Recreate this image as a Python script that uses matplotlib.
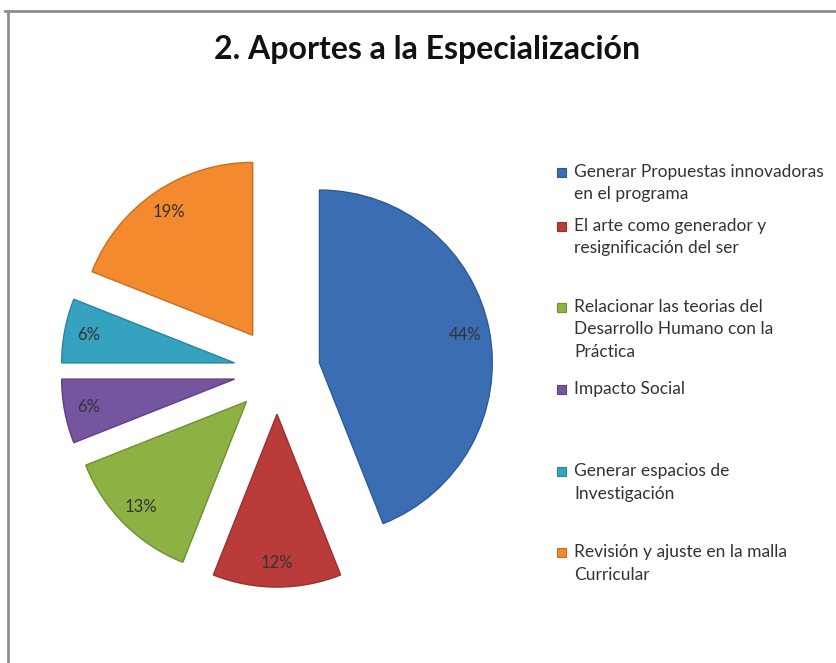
import matplotlib
matplotlib.use('Agg')
import matplotlib.pyplot as plt
from matplotlib.lines import Line2D
from matplotlib.patches import Rectangle

# data
labels = ['Generar Propuestas innovadoras\nen el programa',
          'El arte como generador y\nresignificación del ser',
          'Relacionar las teorias del\nDesarrollo Humano con la\nPráctica',
          'Impacto Social',
          'Generar espacios de\nInvestigación',
          'Revisión y ajuste en la malla\nCurricular']
values = [44, 12, 13, 6, 6, 19]
colors = ['#3B6DB3', '#BA3C3A', '#8DB243', '#7554A0', '#35A2BF', '#F38A2E']
edges = ['#2E5A94', '#9A2F2D', '#6F8F33', '#5E4282', '#2A849C', '#C96E22']
title = '2. Aportes a la Especialización'

plt.rcParams['font.family'] = ['Lato', 'DejaVu Sans']

fig = plt.figure(figsize=(8.36, 6.63), dpi=100)
W, H = 836, 663

# frame lines (top and left only, the rest is cropped in the source)
fig.add_artist(Line2D([5 / W, 1], [1 - 11 / H, 1 - 11 / H], color='#8c8c8c', lw=2))
fig.add_artist(Line2D([8 / W, 8 / W], [0, 1 - 11 / H], color='#8c8c8c', lw=2))

fig.text(427 / W, 1 - 49 / H, title, ha='center', va='center',
         fontsize=23, fontweight='bold', color='#111111')

# pie: center at (277, 371) px, radius 173 px
S = 484
ax = fig.add_axes([(277 - S / 2) / W, (H - 371 - S / 2) / H, S / W, S / H])
wedges, texts, autotexts = ax.pie(values, colors=colors, startangle=90,
                                  counterclock=False, explode=[0.25] * len(values),
                                  autopct='%d%%', pctdistance=0.86,
                                  textprops=dict(fontsize=12, color='#333333'),
                                  wedgeprops=dict(linewidth=1))
for w, e in zip(wedges, edges):
    w.set_edgecolor(e)
ax.set_xlim(-1.4, 1.4)
ax.set_ylim(-1.4, 1.4)
ax.set_aspect('equal')
ax.axis('off')

# legend, laid out like the original
legend_y = [172, 226, 307, 389, 471, 552]
for lab, c, e, y in zip(labels, colors, edges, legend_y):
    fig.add_artist(Rectangle(((557) / W, 1 - (y + 5) / H), 9 / W, 9 / H,
                             facecolor=c, edgecolor=e, lw=0.8))
    fig.text(574 / W, 1 - (y - 8) / H, lab, ha='left', va='top',
             fontsize=12.5, color='#333333', linespacing=1.5)

fig.savefig('out.png', dpi=100, facecolor='white')
